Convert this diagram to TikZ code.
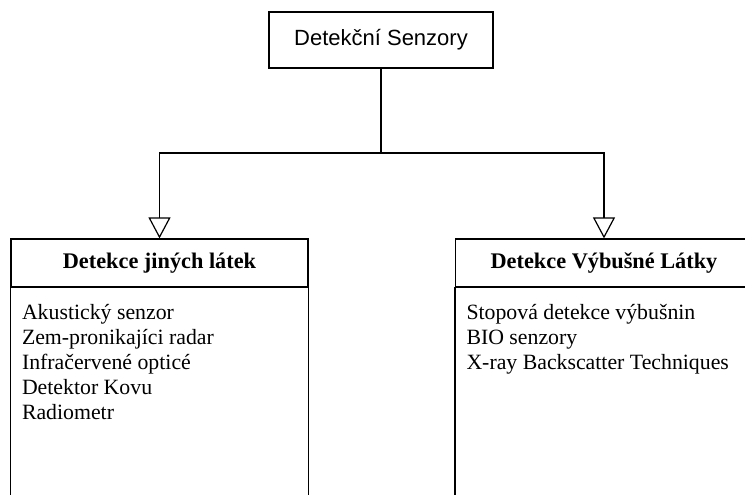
\documentclass[tikz,border=0pt]{standalone}
\usepackage{fontspec}
\setmainfont{Liberation Serif}
\newfontfamily\sansf{Liberation Sans}
\usetikzlibrary{arrows.meta}

\begin{document}
\begin{tikzpicture}[x=1pt,y=-1pt,line width=1.2pt,
    topbox/.style={draw,minimum width=224pt,minimum height=56pt,inner sep=0pt,
        font=\sansf\fontsize{22}{26}\selectfont},
    headbox/.style={draw,minimum width=297pt,minimum height=48pt,inner sep=0pt,
        font=\bfseries\fontsize{22.3}{26}\selectfont},
    itemlist/.style={align=left,inner sep=0pt,anchor=north west,
        font=\fontsize{21.8}{25}\selectfont},
    tri/.style={-{Triangle[open,width=22pt,length=21pt]}}]
    \clip (0,0) rectangle (745,495);
    \node[topbox] (root) at (381,40) {Detekční Senzory};
    \node[headbox] (jine) at (159.5,263) {Detekce jiných látek};
    \node[headbox] (vybus) at (604,263) {Detekce Výbušné Látky};
    %spodní části obou bloků přesahují okraj obrázku
    \draw (jine.south west) rectangle ([yshift=-230pt]jine.south east);
    \draw (vybus.south west) rectangle ([yshift=-230pt]vybus.south east);
    \node[itemlist] (jineList) at ([xshift=11pt,yshift=-16pt]jine.south west)
        {Akustický senzor\\Zem-pronikajíci radar\\Infračervené opticé\\Detektor Kovu\\Radiometr};
    \node[itemlist] (vybusList) at ([xshift=11pt,yshift=-16pt]vybus.south west)
        {Stopová detekce výbušnin\\BIO senzory\\X-ray Backscatter Techniques};
    \coordinate (fork) at (root.south |- 0,153);
    \draw (root.south) -- (fork);
    \draw[tri] (fork) -| (jine.north);
    \draw[tri] (fork) -| (vybus.north);
\end{tikzpicture}
\end{document}
